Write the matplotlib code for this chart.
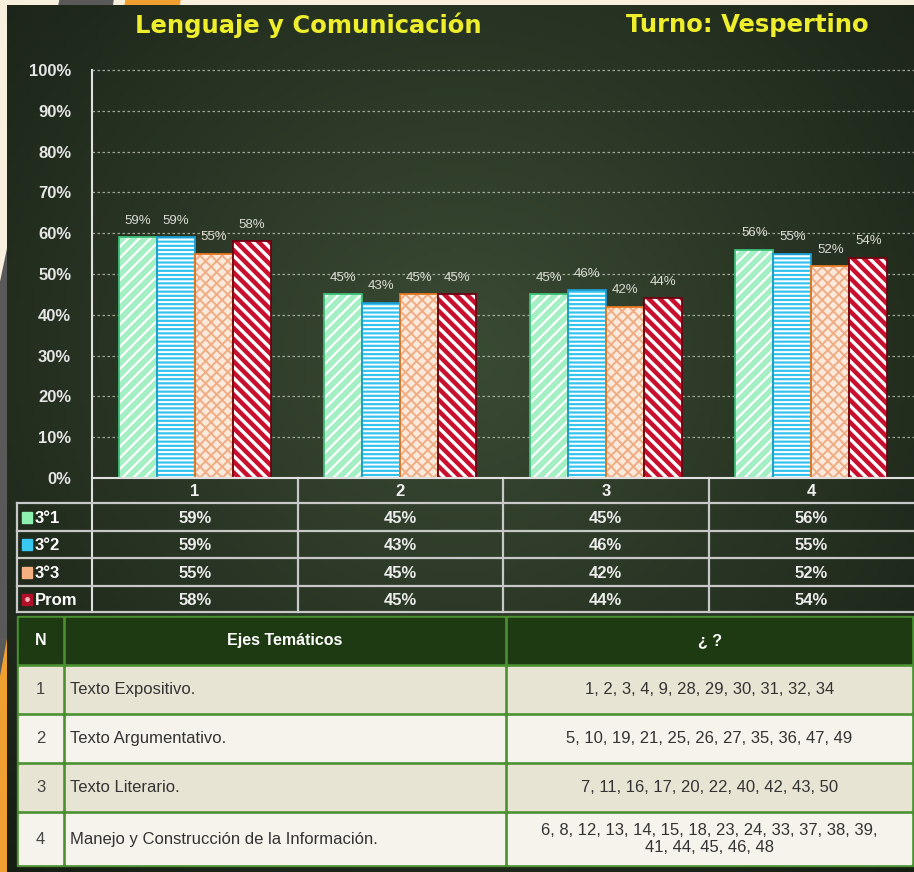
import numpy as np
import matplotlib
matplotlib.use("Agg")
import matplotlib.pyplot as plt
from matplotlib.patches import Rectangle, Polygon

# datos del gráfico
categorias = ["1", "2", "3", "4"]
cursos = ["3°1", "3°2", "3°3", "Prom"]
val_31 = [59, 45, 45, 56]
val_32 = [59, 43, 46, 55]
val_33 = [55, 45, 42, 52]
val_prom = [58, 45, 44, 54]
yticks = [0, 10, 20, 30, 40, 50, 60, 70, 80, 90, 100]

# tabla de ejes temáticos
ejes_n = ["1", "2", "3", "4"]
ejes_nombre = ["Texto Expositivo.", "Texto Argumentativo.", "Texto Literario.",
               "Manejo y Construcción de la Información."]
ejes_preguntas = ["1, 2, 3, 4, 9, 28, 29, 30, 31, 32, 34",
                  "5, 10, 19, 21, 25, 26, 27, 35, 36, 47, 49",
                  "7, 11, 16, 17, 20, 22, 40, 42, 43, 50",
                  "6, 8, 12, 13, 14, 15, 18, 23, 24, 33, 37, 38, 39,\n41, 44, 45, 46, 48"]

series = [val_31, val_32, val_33, val_prom]
# (relleno, color rayado, borde, rayado, grosor rayado)
estilos = [("#a4efc4", "white", "#3cbf78", "///", 1.6),
           ("#34c2ee", "white", "#1c9cd0", "----", 1.4),
           ("#fbe9dc", "#f0ad84", "#e8771e", "xxx", 1.4),
           ("#c8102e", "white", "#6e0010", "\\\\\\", 2.4)]
marcas = ["#8ef0b0", "#38c8f0", "#f4b080", "#b01028"]

plt.rcParams["font.family"] = ["Liberation Sans", "DejaVu Sans"]

W, H = 914, 872
fig = plt.figure(figsize=(W / 100, H / 100), dpi=100, facecolor="#f8f0dc")

# capa de fondo en pixeles
bg = fig.add_axes([0, 0, 1, 1])
bg.axis("off")
bg.add_patch(Polygon([(60, 0), (113, 0), (0, 870), (0, 285)], color="#595959", zorder=0.5))
bg.add_patch(Polygon([(126, 0), (180, 0), (20, 872), (0, 872), (0, 680)], color="#f0a030", zorder=0.6))

yy, xx = np.mgrid[0:1:200j, 0:1:200j]
r = np.sqrt((xx - 0.5) ** 2 + (yy - 0.4) ** 2)
t = np.clip(r / 0.8, 0, 1)[..., None]
c_in = np.array([0x3a, 0x4b, 0x34]) / 255
c_out = np.array([0x15, 0x1c, 0x12]) / 255
bg.imshow(c_in * (1 - t) + c_out * t, extent=(7, W, H, 6), aspect="auto", zorder=1)
bg.set_xlim(0, W)
bg.set_ylim(H, 0)

# títulos
bg.text(135, 25, "Lenguaje y Comunicación", color="#eeee2c", fontsize=17.5,
        fontweight="bold", family="DejaVu Sans", va="center", ha="left", zorder=5)
bg.text(626, 25, "Turno: Vespertino", color="#eeee2c", fontsize=17.5,
        fontweight="bold", family="DejaVu Sans", va="center", ha="left", zorder=5)

# gráfico de barras
x0, x1, y0, y1 = 92, 914, 478, 70
ax = fig.add_axes([x0 / W, (H - y0) / H, (x1 - x0) / W, (y0 - y1) / H])
ax.patch.set_alpha(0)
ax.set_xlim(-0.5, 3.5)
ax.set_ylim(0, 100)
for s in ax.spines.values():
    s.set_visible(False)

for v in yticks[1:]:
    ax.axhline(v, color="#c9cfc2", lw=0.9, ls=(0, (2, 2)), alpha=0.75, zorder=1, clip_on=False)

ancho = 0.185
x = np.arange(len(categorias))
for k, (vals, (fc, hc, ec, ht, hw)) in enumerate(zip(series, estilos)):
    pos = x + (k - 1.5) * ancho
    with plt.rc_context({"hatch.linewidth": hw}):
        ax.bar(pos, vals, ancho, color=fc, edgecolor=hc, hatch=ht, linewidth=0, zorder=2)
    ax.bar(pos, vals, ancho, fill=False, edgecolor=ec, linewidth=1.3, zorder=3)
    for p, v in zip(pos, vals):
        ax.text(p, v + 4, f"{v}%", ha="center", va="center", fontsize=9.5,
                color="#dcdcd4", zorder=4)

ax.axhline(0, color="#e0e0e0", lw=1.5, zorder=5, clip_on=False)
ax.set_yticks(yticks)
ax.set_yticklabels([f"{v}%" for v in yticks], fontsize=12, fontweight="bold", color="#e6e6e6")
ax.set_xticks(x)
ax.set_xticklabels(categorias, fontsize=12, fontweight="bold", color="#f0f0f0")
ax.tick_params(axis="y", length=0, pad=15)
ax.tick_params(axis="x", length=0, pad=4)

# tabla de datos bajo el gráfico
lin = "#c8c8c8"
bordes_y = [503, 531, 558, 586, 612]
cols_x = [x0 + i * (x1 - x0) / len(categorias) for i in range(len(categorias) + 1)]
bg.plot([x0, x0], [y1, bordes_y[-1]], color="#e0e0e0", lw=1.5, zorder=5)
for yl in bordes_y:
    bg.plot([17, W], [yl, yl], color=lin, lw=1.6, zorder=5)
bg.plot([17, 17], [bordes_y[0], bordes_y[-1]], color=lin, lw=1.6, zorder=5)
for xc in cols_x[1:-1]:
    bg.plot([xc, xc], [y0, bordes_y[-1]], color=lin, lw=1.6, zorder=5)

for i, (nombre, vals) in enumerate(zip(cursos, series)):
    yc = (bordes_y[i] + bordes_y[i + 1]) / 2
    bg.add_patch(Rectangle((22, yc - 5.5), 10, 11, color=marcas[i], zorder=6))
    if nombre == "Prom":
        bg.plot(27, yc, "o", ms=2.5, color="#f6b0b8", zorder=7)
    bg.text(35, yc + 1, nombre, color="white", fontsize=12, fontweight="bold",
            va="center", ha="left", zorder=6)
    for j, v in enumerate(vals):
        bg.text((cols_x[j] + cols_x[j + 1]) / 2, yc + 1, f"{v}%", color="#ececec",
                fontsize=12, fontweight="bold", va="center", ha="center", zorder=6)

# tabla de ejes temáticos
verde = "#4a9030"
filas = [616, 665, 714, 763, 812, 866]
cols = [17, 64, 506, 913]
bg.add_patch(Rectangle((cols[0], filas[0]), cols[-1] - cols[0], filas[-1] - filas[0],
                       color=verde, zorder=5))
fondos = ["#1e3a12", "#e8e4d3", "#f5f3ec", "#e8e4d3", "#f5f3ec"]
for i in range(len(filas) - 1):
    for j in range(len(cols) - 1):
        bg.add_patch(Rectangle((cols[j] + 2, filas[i] + 2), cols[j + 1] - cols[j] - 4,
                               filas[i + 1] - filas[i] - 4, color=fondos[i], zorder=6))

yc = (filas[0] + filas[1]) / 2
bg.text((cols[0] + cols[1]) / 2, yc, "N", color="white", fontsize=11.5, fontweight="bold",
        ha="center", va="center", zorder=7)
bg.text((cols[1] + cols[2]) / 2, yc, "Ejes Temáticos", color="white", fontsize=11.5,
        fontweight="bold", ha="center", va="center", zorder=7)
bg.text((cols[2] + cols[3]) / 2, yc, "¿ ?", color="white", fontsize=11.5,
        fontweight="bold", ha="center", va="center", zorder=7)
for i in range(len(ejes_n)):
    yc = (filas[i + 1] + filas[i + 2]) / 2
    bg.text((cols[0] + cols[1]) / 2, yc, ejes_n[i], color="#444444", fontsize=12,
            ha="center", va="center", zorder=7)
    bg.text(cols[1] + 6, yc, ejes_nombre[i], color="#333333", fontsize=12,
            ha="left", va="center", zorder=7)
    bg.text((cols[2] + cols[3]) / 2, yc, ejes_preguntas[i], color="#333333", fontsize=12,
            ha="center", va="center", linespacing=1.1, zorder=7)

fig.savefig("out.png", dpi=100, facecolor=fig.get_facecolor())
